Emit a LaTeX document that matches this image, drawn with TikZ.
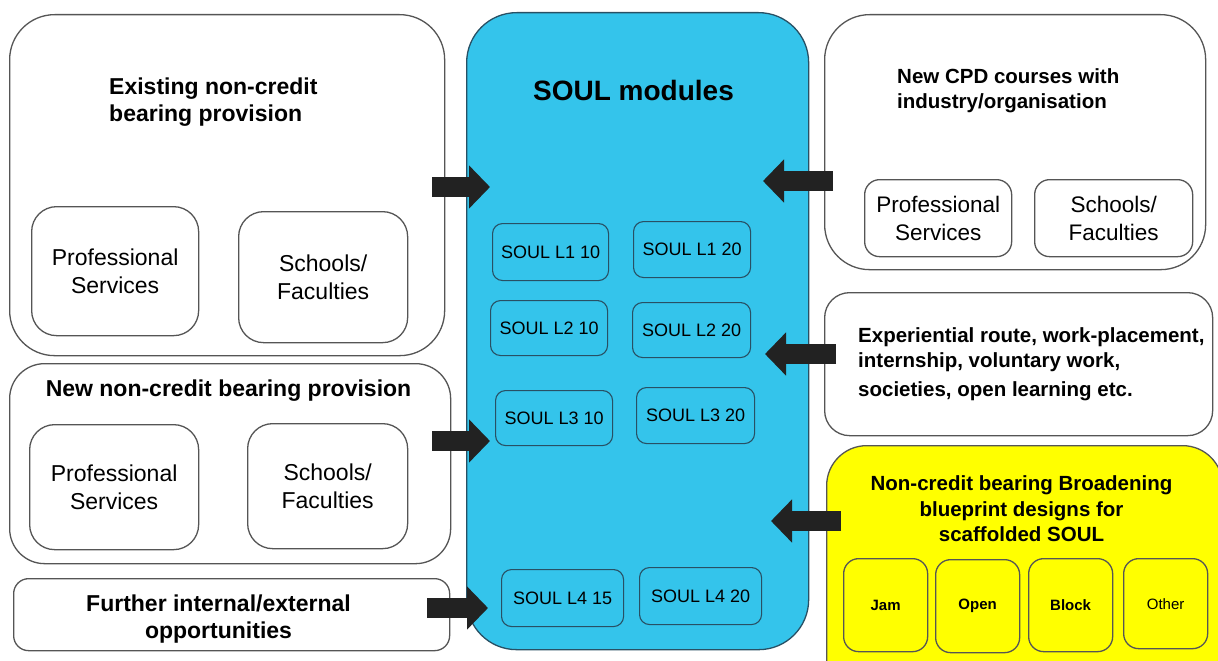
\documentclass[tikz,border=0pt]{standalone}
\usepackage{fontspec}
\setmainfont{Liberation Sans}
\usetikzlibrary{arrows.meta}
\definecolor{soulblue}{RGB}{52,196,235}
\definecolor{edgegray}{RGB}{85,85,85}
\definecolor{moduleedge}{RGB}{40,80,100}
\definecolor{blueprint}{RGB}{255,255,0}
\definecolor{arrowink}{RGB}{34,34,34}

\begin{document}
\begin{tikzpicture}[x=1pt,y=-1pt,
  panel/.style={draw=edgegray, line width=1.3pt, fill=white, inner sep=0pt, anchor=north west},
  inner/.style={panel, align=center, font=\fontsize{23}{28.5}\selectfont},
  cpdinner/.style={panel, align=center, font=\fontsize{22.5}{28}\selectfont, rounded corners=15pt},
  module/.style={draw=moduleedge, line width=1.1pt, rounded corners=10pt, inner sep=0pt,
    anchor=north west, font=\fontsize{18}{22}\selectfont},
  design/.style={panel, fill=blueprint, rounded corners=15pt, minimum width=84, minimum height=93,
    font=\fontsize{15}{18}\selectfont},
  heading/.style={inner sep=0pt, font=\fontsize{23}{27}\selectfont\bfseries},
  rightheading/.style={inner sep=0pt, font=\fontsize{20.5}{25}\selectfont\bfseries},
  bigarrow/.style={draw=arrowink, line width=20pt, -{Triangle[length=21pt,width=42pt]}}]

\useasboundingbox (0,0) rectangle (1218,661);
\clip (0,0) rectangle (1218,661);
\fill[white] (0,0) rectangle (1218,661);

% left column: existing provision
\node[panel, rounded corners=45pt, minimum width=435, minimum height=341] (exist) at (9,14) {};
\node[heading, anchor=west, align=left] (existT) at (109,102.5) {Existing non-credit\\bearing provision};
\node[inner, rounded corners=25pt, minimum width=167, minimum height=129] (existPS) at (31,206) {Professional\\Services};
\node[inner, rounded corners=25pt, minimum width=169, minimum height=131] (existSF) at (238,211) {Schools/\\Faculties};

% left column: new provision
\node[panel, rounded corners=35pt, minimum width=441, minimum height=200] (newp) at (9,363) {};
\node[heading, anchor=base] (newpT) at (228.5,396) {New non-credit bearing provision};
\node[inner, rounded corners=25pt, minimum width=169, minimum height=125] (newPS) at (29,424) {Professional\\Services};
\node[inner, rounded corners=25pt, minimum width=160, minimum height=125] (newSF) at (247,423) {Schools/\\Faculties};

% left column: further opportunities
\node[panel, rounded corners=15pt, minimum width=436, minimum height=72] (further) at (13,578) {};
\node[heading, align=center] (furtherT) at (218.5,619.5) {Further internal/external\\opportunities};

% centre: SOUL modules
\node[panel, fill=soulblue, draw=moduleedge, rounded corners=50pt, minimum width=342, minimum height=637] (soul) at (466,12) {};
\node[inner sep=0pt, anchor=base, font=\fontsize{28}{32}\selectfont\bfseries] (soulT) at (633.5,100) {SOUL modules};
\node[module, minimum width=116, minimum height=57] (m110) at (492,223) {SOUL L1 10};
\node[module, minimum width=117, minimum height=56] (m120) at (633,221) {SOUL L1 20};
\node[module, minimum width=117, minimum height=55] (m210) at (490,300) {SOUL L2 10};
\node[module, minimum width=118, minimum height=55] (m220) at (632,302) {SOUL L2 20};
\node[module, minimum width=117, minimum height=55] (m310) at (495,390) {SOUL L3 10};
\node[module, minimum width=118, minimum height=56] (m320) at (636,387) {SOUL L3 20};
\node[module, minimum width=122, minimum height=57] (m415) at (501,569) {SOUL L4 15};
\node[module, minimum width=122, minimum height=57] (m420) at (639,567) {SOUL L4 20};

% right column: CPD courses
\node[panel, rounded corners=45pt, minimum width=381, minimum height=255] (cpd) at (824,14) {};
\node[rightheading, anchor=west, align=left] (cpdT) at (897,90.5) {New CPD courses with\\industry/organisation};
\node[cpdinner, minimum width=147, minimum height=77] (cpdPS) at (864,179) {Professional\\Services};
\node[cpdinner, minimum width=158, minimum height=77] (cpdSF) at (1034,179) {Schools/\\Faculties};

% right column: experiential route
\node[panel, rounded corners=25pt, minimum width=388, minimum height=143] (exper) at (824,292) {};
\node[rightheading, anchor=west, align=left] (experT) at (858,364) {Experiential route, work-placement,\\internship, voluntary work,\\[4pt]societies, open learning etc.};

% right column: blueprint designs
\node[panel, fill=blueprint, draw=edgegray, rounded corners=40pt, minimum width=396, minimum height=260] (blue) at (826,445) {};
\node[rightheading, align=center, font=\fontsize{20.5}{25.5}\selectfont\bfseries] (blueT) at (1021.5,509) {Non-credit bearing Broadening\\blueprint designs for\\scaffolded SOUL};
\node[design, font=\fontsize{15}{18}\selectfont\bfseries] (jam) at (843,558) {Jam};
\node[design, font=\fontsize{15}{18}\selectfont\bfseries] (open) at (935,559) {Open};
\node[design, font=\fontsize{15}{18}\selectfont\bfseries] (block) at (1028,558) {Block};
\node[design, minimum height=90] (other) at (1123,558) {Other};

% arrows into the SOUL modules
\coordinate (a1s) at (432,187);  \coordinate (a1e) at (490,187);
\coordinate (a2s) at (432,441);  \coordinate (a2e) at (490,441);
\coordinate (a3s) at (427,608);  \coordinate (a3e) at (488,608);
\coordinate (a4s) at (833,181);  \coordinate (a4e) at (763,181);
\coordinate (a5s) at (836,354);  \coordinate (a5e) at (765,354);
\coordinate (a6s) at (841,521);  \coordinate (a6e) at (771,521);
\draw[bigarrow] (a1s) -- (a1e);
\draw[bigarrow] (a2s) -- (a2e);
\draw[bigarrow] (a3s) -- (a3e);
\draw[bigarrow] (a4s) -- (a4e);
\draw[bigarrow] (a5s) -- (a5e);
\draw[bigarrow] (a6s) -- (a6e);
\end{tikzpicture}
\end{document}
